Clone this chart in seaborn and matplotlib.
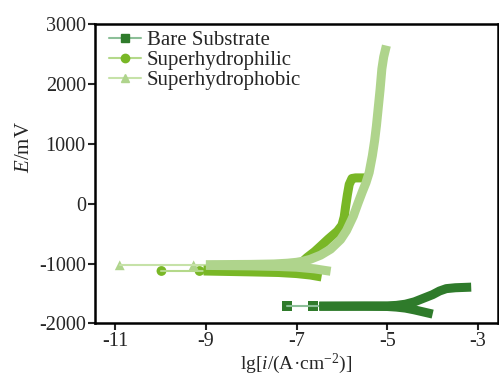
import matplotlib
matplotlib.use("Agg")
import matplotlib.pyplot as plt
import seaborn as sns
import pandas as pd
from matplotlib.lines import Line2D

# sample names and colours
samples = ["Bare Substrate", "Superhydrophilic", "Superhydrophobic"]
colors = {"Bare Substrate": "#2f7b2b", "Superhydrophilic": "#79b726", "Superhydrophobic": "#afd48c"}
legend_line = {"Bare Substrate": "#8cbf98", "Superhydrophilic": "#b4d98a", "Superhydrophobic": "#c6e2a8"}
markers = {"Bare Substrate": "s", "Superhydrophilic": "o", "Superhydrophobic": "^"}

# sparse points near Ecorr (lg i, E in mV)
bare_tip_x = [-7.22, -6.63, -6.5]
bare_tip_e = [-1715, -1715, -1715]
phil_tip_x = [-9.98, -9.14, -9.05]
phil_tip_e = [-1125, -1125, -1125]
phob_tip_x = [-10.9, -9.27, -9.0]
phob_tip_e = [-1030, -1030, -1030]

# cathodic branches
bare_cat_x = [-6.5, -5.5, -5.0, -4.8, -4.6, -4.4, -4.2, -4.0]
bare_cat_e = [-1715, -1715, -1718, -1728, -1745, -1775, -1810, -1845]
phil_cat_x = [-9.05, -8.0, -7.4, -7.0, -6.7, -6.45]
phil_cat_e = [-1125, -1140, -1150, -1168, -1192, -1225]
phob_cat_x = [-9.0, -8.0, -7.4, -7.0, -6.6, -6.25]
phob_cat_e = [-1032, -1040, -1050, -1062, -1090, -1130]

# anodic branches
bare_ano_x = [-6.5, -5.0, -4.8, -4.6, -4.4, -4.2, -4.0, -3.85, -3.7, -3.5, -3.15]
bare_ano_e = [-1712, -1708, -1700, -1680, -1640, -1580, -1520, -1460, -1420, -1405, -1395]
phil_ano_x = [-9.05, -8.0, -7.4, -7.1, -6.9, -6.77, -6.6, -6.47, -6.3, -6.1, -6.0,
              -5.95, -5.92, -5.88, -5.84, -5.78, -5.7, -5.45]
phil_ano_e = [-1110, -1105, -1090, -1060, -990, -900, -800, -710, -590, -460, -360,
              -220, -50, 150, 320, 420, 430, 430]
phob_ano_x = [-9.0, -8.0, -7.5, -7.2, -7.0, -6.85, -6.7, -6.47, -6.25, -6.03, -5.9,
              -5.75, -5.65, -5.55, -5.47, -5.4, -5.33, -5.28, -5.24, -5.2, -5.16,
              -5.12, -5.08, -5.02]
phob_ano_e = [-1020, -1015, -1008, -995, -980, -960, -930, -860, -760, -600, -450,
              -210, 0, 200, 350, 520, 800, 1050, 1300, 1600, 1900, 2250, 2450, 2640]

x_ticks = [-11, -9, -7, -5, -3]
y_ticks = [-2000, -1000, 0, 1000, 2000, 3000]

branches = []
for name, cx, ce, ax_, ae in [
    ("Bare Substrate", bare_cat_x, bare_cat_e, bare_ano_x, bare_ano_e),
    ("Superhydrophilic", phil_cat_x, phil_cat_e, phil_ano_x, phil_ano_e),
    ("Superhydrophobic", phob_cat_x, phob_cat_e, phob_ano_x, phob_ano_e),
]:
    branches.append(pd.DataFrame({"lgi": cx, "E": ce, "sample": name, "seg": name + "_c"}))
    branches.append(pd.DataFrame({"lgi": ax_, "E": ae, "sample": name, "seg": name + "_a"}))
df = pd.concat(branches, ignore_index=True)

tips = pd.concat([
    pd.DataFrame({"lgi": bare_tip_x, "E": bare_tip_e, "sample": "Bare Substrate"}),
    pd.DataFrame({"lgi": phil_tip_x, "E": phil_tip_e, "sample": "Superhydrophilic"}),
    pd.DataFrame({"lgi": phob_tip_x, "E": phob_tip_e, "sample": "Superhydrophobic"}),
], ignore_index=True)

sns.set_style("white")
plt.rcParams["font.family"] = ["Liberation Serif", "DejaVu Serif"]
plt.rcParams["mathtext.fontset"] = "custom"
plt.rcParams["mathtext.rm"] = "Liberation Serif"
plt.rcParams["mathtext.it"] = "Liberation Serif:italic"
plt.rcParams["axes.unicode_minus"] = False

fig = plt.figure(figsize=(4.99, 3.76), dpi=100)
ax = fig.add_axes([0.19, 0.14, 0.807, 0.796])

# thin line + markers near Ecorr
for name in samples:
    sub = tips[tips["sample"] == name]
    sns.lineplot(data=sub, x="lgi", y="E", color=legend_line[name], lw=1.5,
                 sort=False, estimator=None, ax=ax, legend=False)
    sns.scatterplot(data=sub.iloc[:2], x="lgi", y="E", color=colors[name],
                    marker=markers[name], s=50, edgecolor="none", ax=ax, legend=False)

# thick polarization branches
sns.lineplot(data=df, x="lgi", y="E", hue="sample", units="seg", estimator=None,
             sort=False, palette=colors, lw=6.5, solid_capstyle="butt",
             solid_joinstyle="round", ax=ax, legend=False)

ax.set_xlim(-11.45, -2.57)
ax.set_ylim(-2000, 3000)
ax.set_xticks(x_ticks)
ax.set_yticks(y_ticks)
ax.tick_params(axis="both", direction="out", length=5, width=1.5, labelsize=14.5,
               left=True, bottom=True, pad=1.5)
for s in ax.spines.values():
    s.set_linewidth(1.8)
    s.set_color("black")
ax.set_xlabel(r"lg[$i$/(A·cm$^{-2}$)]", fontsize=14)
ax.xaxis.set_label_coords(0.5, -0.095)
ax.xaxis.label.set_va("top")
ax.set_ylabel(r"$E$/mV", fontsize=15)
ax.yaxis.set_label_coords(-0.152, 0.59)

handles = [Line2D([], [], color=legend_line[n], lw=1.5, marker=markers[n], markersize=6,
                  markerfacecolor=colors[n], markeredgecolor=colors[n]) for n in samples]
ax.legend(handles, samples, loc="upper left", frameon=False, fontsize=15,
          handlelength=1.55, handletextpad=0.25, labelspacing=0.02,
          borderaxespad=0.0, bbox_to_anchor=(0.015, 1.005))

fig.savefig("out.png", dpi=100)
